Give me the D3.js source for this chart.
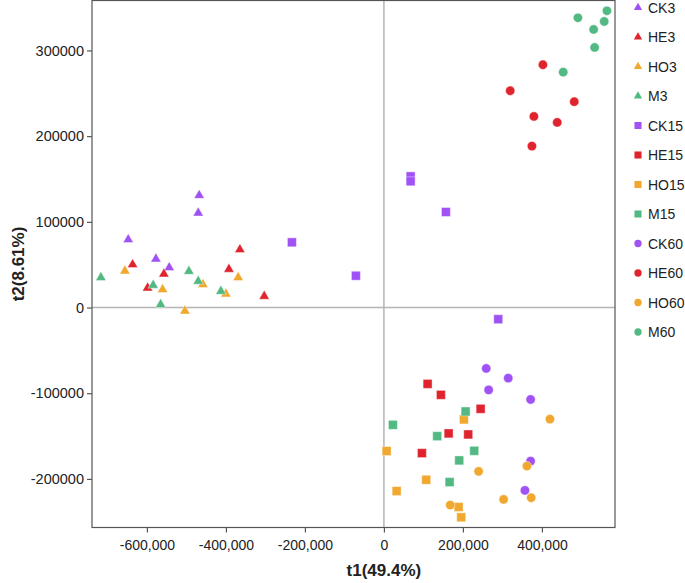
<!DOCTYPE html>
<html>
<head>
<meta charset="utf-8">
<script src="https://cdn.jsdelivr.net/npm/d3@7"></script>
<style>
  body { margin: 0; background: #fff; }
  svg { font-family: "Liberation Sans", Arial, sans-serif; }
</style>
</head>
<body>
<div class="canvas"></div>
<script>
'use strict';

// groups, in legend order
var GROUPS = ['CK3', 'HE3', 'HO3', 'M3', 'CK15', 'HE15', 'HO15', 'M15', 'CK60', 'HE60', 'HO60', 'M60'];
var GROUP_SHAPE = ['tri', 'tri', 'tri', 'tri', 'sq', 'sq', 'sq', 'sq', 'circ', 'circ', 'circ', 'circ'];
var GROUP_COLOR = ['#a052f5', '#e0242e', '#f0a82e', '#52b983',
                   '#a052f5', '#e0242e', '#f0a82e', '#52b983',
                   '#a052f5', '#e0242e', '#f0a82e', '#52b983'];

// scores [t1, t2] per group
var CK3 = [[-467600, 130900], [-470100, 110300], [-647300, 79300], [-577200, 56700], [-543500, 46600]];
var HE3 = [[-364600, 67600], [-636200, 50100], [-392400, 44700], [-557000, 39200], [-598200, 22900], [-303000, 13200]];
var HO3 = [[-655700, 42700], [-368900, 35000], [-458200, 26800], [-560300, 21000], [-400000, 15900], [-503800, -4000]];
var M3 = [[-716500, 35000], [-493700, 42300], [-470100, 30700], [-584100, 26000], [-412700, 19000], [-565300, 3500]];
var CK15 = [[67600, 153100], [67600, 147300], [157000, 111500], [-232900, 76100], [-70900, 37100], [289400, -13600]];
var HE15 = [[110600, -89100], [144300, -101900], [244800, -118200], [163800, -146900], [213400, -148100], [96200, -169900]];
var HO15 = [[202500, -130600], [6800, -167500], [107100, -201000], [32200, -214200], [189100, -232800], [195700, -244800]];
var M15 = [[22800, -136900], [206800, -121300], [134900, -150100], [228600, -167200], [190600, -178400], [166300, -203700]];
var CK60 = [[259000, -71100], [314700, -82400], [265100, -96100], [371400, -107300], [371400, -179200], [357000, -213400]];
var HE60 = [[402500, 283300], [319700, 253000], [481800, 240200], [379700, 223000], [438700, 216000], [374700, 188400]];
var HO60 = [[420300, -130200], [362000, -185000], [239700, -191200], [372900, -222000], [303000, -223900], [167800, -230500]];
var M60 = [[564600, 346300], [491100, 338100], [557700, 333800], [530900, 324500], [533400, 303500], [453900, 274700]];

var SERIES = [CK3, HE3, HO3, M3, CK15, HE15, HO15, M15, CK60, HE60, HO60, M60];

var X_TICKS = [-600000, -400000, -200000, 0, 200000, 400000];
var Y_TICKS = [-200000, -100000, 0, 100000, 200000, 300000];
var X_TITLE = 't1(49.4%)';
var Y_TITLE = 't2(8.61%)';

var W = 685, H = 583;
var LEFT = 92, RIGHT = 615, TOP = 0.5, BOTTOM = 527.5;

var svg = d3.select('.canvas').append('svg')
  .attr('width', W)
  .attr('height', H);

var x = d3.scaleLinear().domain([-739000, 585000]).range([LEFT, RIGHT]);
var y = d3.scaleLinear().domain([-256700, 358300]).range([BOTTOM, TOP]);

// plain hyphen for negatives, like the original
var fmtX = function(d) { return d3.format(',')(d).replace('\u2212', '-'); };
var fmtY = function(d) { return d3.format('d')(d).replace('\u2212', '-'); };

function symbolFor(shape, big) {
  if (shape == 'tri') return d3.symbol().type(d3.symbolTriangle).size(big ? 46 : 30)();
  if (shape == 'sq') return d3.symbol().type(d3.symbolSquare).size(big ? 80 : 50)();
  return d3.symbol().type(d3.symbolCircle).size(big ? 68 : 42)();
}

// zero lines
svg.append('line')
  .attr('x1', x(0)).attr('x2', x(0))
  .attr('y1', TOP).attr('y2', BOTTOM)
  .style('stroke', '#b4b4b4')
  .style('stroke-width', 1.5);
svg.append('line')
  .attr('x1', LEFT).attr('x2', RIGHT)
  .attr('y1', y(0)).attr('y2', y(0))
  .style('stroke', '#b4b4b4')
  .style('stroke-width', 1.5);

// frame
svg.append('rect')
  .attr('x', LEFT).attr('y', TOP)
  .attr('width', RIGHT - LEFT).attr('height', BOTTOM - TOP)
  .style('fill', 'none')
  .style('stroke', '#555')
  .style('stroke-width', 1.2);

// axes
var xAxis = svg.append('g')
  .attr('transform', 'translate(0,' + BOTTOM + ')')
  .call(d3.axisBottom(x).tickValues(X_TICKS).tickFormat(fmtX).tickSize(5).tickSizeOuter(0));
var yAxis = svg.append('g')
  .attr('transform', 'translate(' + LEFT + ',0)')
  .call(d3.axisLeft(y).tickValues(Y_TICKS).tickFormat(fmtY).tickSize(5).tickSizeOuter(0));

[xAxis, yAxis].forEach(function(g) {
  g.select('.domain').remove();
  g.selectAll('line').style('stroke', '#555').style('stroke-width', 1.2);
  g.selectAll('text')
    .style('font-size', '14px')
    .style('fill', '#222')
    .style('font-family', '"Liberation Sans", Arial, sans-serif');
});
xAxis.selectAll('text').attr('dy', '1.05em');
yAxis.selectAll('text').attr('x', -8).style('font-size', '14.5px');

// axis titles
svg.append('text')
  .attr('x', x(0))
  .attr('y', 576)
  .attr('text-anchor', 'middle')
  .style('font-size', '17px')
  .style('font-weight', 'bold')
  .style('fill', '#222')
  .text(X_TITLE);
svg.append('text')
  .attr('transform', 'translate(24,' + ((TOP + BOTTOM) / 2) + ') rotate(-90)')
  .attr('text-anchor', 'middle')
  .style('font-size', '17px')
  .style('font-weight', 'bold')
  .style('fill', '#222')
  .text(Y_TITLE);

// points
SERIES.forEach(function(pts, i) {
  svg.append('g')
    .selectAll('path')
    .data(pts)
    .enter()
    .append('path')
    .attr('d', symbolFor(GROUP_SHAPE[i], true))
    .attr('transform', function(d) { return 'translate(' + x(d[0]) + ',' + y(d[1]) + ')'; })
    .style('fill', GROUP_COLOR[i])
    .style('stroke', '#fff')
    .style('stroke-width', 0.4);
});

// legend
var legend = svg.append('g')
  .selectAll('g')
  .data(GROUPS)
  .enter()
  .append('g')
  .attr('transform', function(d, i) { return 'translate(638,' + (7.5 + i * 29.5) + ')'; });
legend.append('path')
  .attr('d', function(d, i) { return symbolFor(GROUP_SHAPE[i], false); })
  .style('fill', function(d, i) { return GROUP_COLOR[i]; });
legend.append('text')
  .attr('x', 10)
  .attr('y', 5)
  .style('font-size', '14px')
  .style('fill', '#222')
  .text(function(d) { return d; });
</script>
</body>
</html>
